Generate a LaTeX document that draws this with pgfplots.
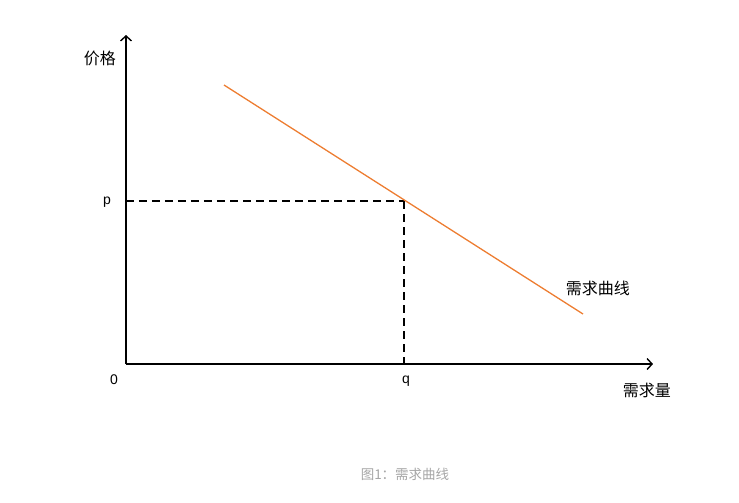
\documentclass[border=0pt]{standalone}
\usepackage{pgfplots}
\pgfplotsset{compat=1.18}
\usepackage{fontspec}
\setmainfont{Liberation Sans}
\newfontfamily\cjk{Noto Sans CJK SC}
\usetikzlibrary{arrows.meta}
\definecolor{demand}{HTML}{ED7D31}
\begin{document}
\begin{tikzpicture}
\path[use as bounding box] (-126bp,-139bp) rectangle (613bp,364bp);
\begin{axis}[
  anchor=origin, at={(0,0)},
  x=1bp, y=1bp,
  xmin=0, xmax=527, ymin=0, ymax=329,
  axis lines=none, clip=false,
]
\draw[line width=1.4bp, -{Straight Barb[length=5bp,width=11bp,line width=1.4bp]}] (axis cs:0,0) -- (axis cs:527,0);
\draw[line width=1.4bp, -{Straight Barb[length=5bp,width=11bp,line width=1.4bp]}] (axis cs:0,0) -- (axis cs:0,329);
\addplot[black, line width=1.4bp, dash pattern=on 8bp off 5bp] coordinates {(0,163) (278,163)};
\addplot[black, line width=1.4bp, dash pattern=on 8bp off 5bp] coordinates {(278,163) (278,0)};
\addplot[demand, line width=1.3bp] coordinates {(98,279) (457,50)};
\node[font=\cjk\fontsize{16bp}{18bp}\selectfont] at (axis cs:-26,306) {价格};
\node[font=\fontsize{14bp}{16bp}\selectfont] at (axis cs:-19,162) {p};
\node[font=\fontsize{14bp}{16bp}\selectfont] at (axis cs:-12,-16) {0};
\node[font=\fontsize{14bp}{16bp}\selectfont] at (axis cs:280,-17) {q};
\node[font=\cjk\fontsize{16bp}{18bp}\selectfont] at (axis cs:521,-26) {需求量};
\node[font=\cjk\fontsize{16bp}{18bp}\selectfont] at (axis cs:472,76) {需求曲线};
\node[font=\cjk\fontsize{13.5bp}{15bp}\selectfont, text=black!35] at (axis cs:279,-110) {图1：需求曲线};
\end{axis}
\end{tikzpicture}
\end{document}
